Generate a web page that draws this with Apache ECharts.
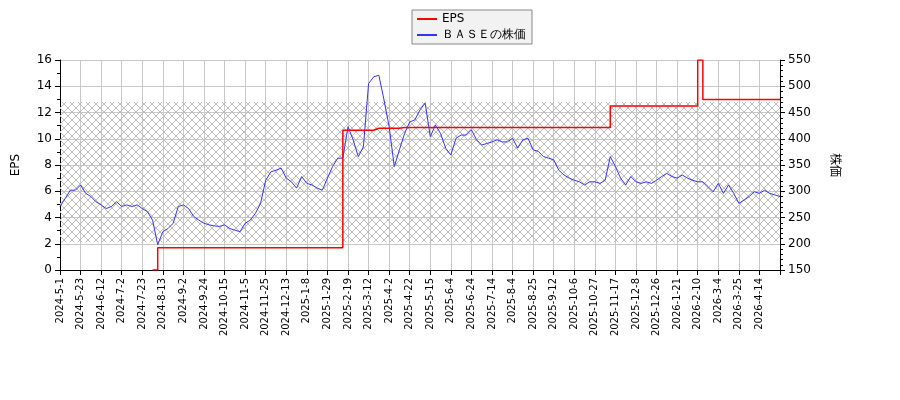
<!DOCTYPE html>
<html>
<head>
<meta charset="utf-8">
<script src="https://cdn.jsdelivr.net/npm/echarts@6/dist/echarts.min.js"></script>
<style>body{margin:0;background:#fff}#chart{width:900px;height:400px}</style>
</head>
<body>
<div id="chart"></div>
<script>
// tick labels, one every 4 points
var tickLabels = ['2024-5-1','2024-5-23','2024-6-12','2024-7-2','2024-7-23','2024-8-13','2024-9-2','2024-9-24',
  '2024-10-15','2024-11-5','2024-11-25','2024-12-13','2025-1-8','2025-1-29','2025-2-19','2025-3-12','2025-4-2',
  '2025-4-22','2025-5-15','2025-6-4','2025-6-24','2025-7-14','2025-8-4','2025-8-25','2025-9-12','2025-10-6',
  '2025-10-27','2025-11-17','2025-12-8','2025-12-26','2026-1-21','2026-2-10','2026-3-4','2026-3-25','2026-4-14'];

var price = [271,286,302,302,312,296,290,280,274,267,271,280,271,274,271,274,267,261,245,198,
  223,229,239,271,274,267,252,245,239,236,234,233,236,229,226,223,239,245,258,277,
  321,337,340,344,325,318,306,328,315,312,306,302,325,347,363,363,423,398,366,385,
  505,518,521,474,423,347,379,410,432,436,455,468,404,426,410,382,369,401,407,407,
  417,398,388,391,394,398,394,394,401,382,398,401,379,376,366,363,360,340,331,325,
  321,318,312,318,318,315,321,366,347,325,312,328,318,315,318,315,321,328,334,328,
  325,331,325,321,318,318,309,299,315,296,312,296,277,283,290,299,296,302,296,293,290];

var eps = [];
for (var i = 0; i < price.length; i++) {
  var v;
  if (i < 18) v = null;
  else if (i < 19) v = 0;
  else if (i < 55) v = 1.7;
  else if (i < 61) v = 10.65;
  else if (i < 66) v = 10.8;
  else if (i < 107) v = 10.85;
  else if (i < 124) v = 12.5;
  else if (i < 125) v = 16;
  else v = 13.0;
  eps.push(v);
}

var cats = [];
for (var i = 0; i < price.length; i++) {
  cats.push(i % 4 === 0 && tickLabels[i / 4] ? tickLabels[i / 4] : 'p' + i);
}

var tile = document.createElement('canvas');
tile.width = 8; tile.height = 8;
var c = tile.getContext('2d');
c.strokeStyle = '#bdbdbd';
c.lineWidth = 1;
c.beginPath();
c.moveTo(0, 0); c.lineTo(8, 8);
c.moveTo(8, 0); c.lineTo(0, 8);
c.stroke();

var font = 'DejaVu Sans';
var myChart = echarts.init(document.getElementById('chart'));
myChart.setOption({
  animation: false,
  textStyle: {fontFamily: font},
  legend: {
    orient: 'vertical', left: 412, top: 10, itemGap: 4,
    backgroundColor: '#f2f2f2', borderColor: '#888', borderWidth: 1, padding: [3, 6, 3, 5],
    itemWidth: 20, itemHeight: 2, icon: 'rect',
    textStyle: {fontFamily: font, fontSize: 12, color: '#000'},
    data: ['EPS', 'ＢＡＳＥの株価']
  },
  grid: {left: 60, right: 120, top: 60, bottom: 130, containLabel: false},
  xAxis: {
    type: 'category', data: cats, boundaryGap: false,
    axisLine: {lineStyle: {color: '#000'}},
    axisTick: {interval: function (i) { return i % 4 === 0; }, lineStyle: {color: '#000'}},
    splitLine: {show: true, interval: function (i) { return i % 4 === 0; }, lineStyle: {color: '#c8c8c8'}},
    axisLabel: {rotate: 90, interval: function (i) { return i % 4 === 0 && i / 4 < tickLabels.length; },
      fontSize: 10, color: '#000', fontFamily: font}
  },
  yAxis: [{
    type: 'value', min: 0, max: 16, interval: 2, name: 'EPS', nameLocation: 'middle', nameGap: 38,
    nameRotate: 90, nameTextStyle: {fontSize: 12, color: '#000'},
    axisLine: {show: true, lineStyle: {color: '#000'}},
    axisTick: {show: true, lineStyle: {color: '#000'}},
    minorTick: {show: true, splitNumber: 2, lineStyle: {color: '#000'}},
    splitLine: {lineStyle: {color: '#c8c8c8'}},
    axisLabel: {fontSize: 12, color: '#000'}
  }, {
    type: 'value', min: 150, max: 550, interval: 50, name: '株価', nameLocation: 'middle', nameGap: 50,
    nameRotate: -90, nameTextStyle: {fontSize: 12, color: '#000', fontFamily: 'Noto Sans CJK JP'},
    axisLine: {show: true, lineStyle: {color: '#000'}},
    axisTick: {show: true, lineStyle: {color: '#000'}},
    minorTick: {show: true, splitNumber: 5, lineStyle: {color: '#000'}},
    splitLine: {show: false},
    axisLabel: {fontSize: 12, color: '#000'}
  }],
  series: [{
    name: 'ＢＡＳＥの株価', type: 'line', yAxisIndex: 1, data: price, symbol: 'none',
    lineStyle: {color: '#3333ff', width: 1}, itemStyle: {color: '#3333ff'},
    markArea: {silent: true, itemStyle: {color: {image: tile, repeat: 'repeat'}},
      data: [[{yAxis: 470}, {yAxis: 203}]]}
  }, {
    name: 'EPS', type: 'line', yAxisIndex: 0, data: eps, symbol: 'none', step: 'end',
    lineStyle: {color: '#ff0000', width: 1.5}, itemStyle: {color: '#ff0000'}
  }]
});
</script>
</body>
</html>
